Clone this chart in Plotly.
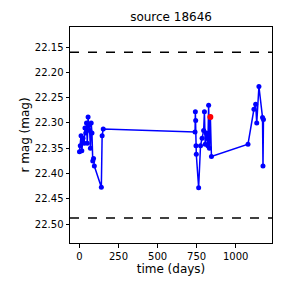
import plotly.graph_objects as go

# Light curve data (time in days, r magnitude)
time_days = [0, 5, 10, 15, 22, 30, 35, 40, 45, 50, 55, 60, 65, 70, 75, 80, 85, 90, 95, 140, 145, 152,
             740, 742, 744, 746, 748, 763, 775, 785, 795, 800, 805, 812, 818, 822, 827, 832, 838, 845,
             1079, 1117, 1128, 1135, 1149, 1172, 1175, 1178]
r_mag = [22.357, 22.345, 22.325, 22.355, 22.33, 22.34, 22.31, 22.32, 22.30, 22.34, 22.288, 22.305,
         22.315, 22.35, 22.30, 22.32, 22.375, 22.37, 22.385, 22.427, 22.325, 22.312,
         22.318, 22.278, 22.295, 22.345, 22.362, 22.428, 22.345, 22.33, 22.315, 22.278, 22.342,
         22.32, 22.33, 22.345, 22.265, 22.35, 22.288, 22.366,
         22.342, 22.273, 22.263, 22.30, 22.228, 22.289, 22.385, 22.293]

highlight_time = [838]
highlight_mag = [22.288]

upper_limit = 22.1605
lower_limit = 22.4876

x_range = [-60.7, 1232.7]
y_range = [22.537, 22.1105]

fig = go.Figure()
fig.add_trace(go.Scatter(x=time_days, y=r_mag, mode="lines+markers",
                         line=dict(color="blue", width=1.5),
                         marker=dict(color="blue", size=5), showlegend=False))
fig.add_trace(go.Scatter(x=highlight_time, y=highlight_mag, mode="markers",
                         marker=dict(color="red", size=6), showlegend=False))
fig.add_trace(go.Scatter(x=x_range, y=[upper_limit, upper_limit], mode="lines",
                         line=dict(color="black", width=1.5, dash="dash"), showlegend=False))
fig.add_trace(go.Scatter(x=x_range, y=[lower_limit, lower_limit], mode="lines",
                         line=dict(color="black", width=1.5, dash="dash"), showlegend=False))

axis_common = dict(showgrid=False, zeroline=False, showline=True, linecolor="black", linewidth=1,
                   mirror=True, ticks="outside", ticklen=3.5, tickwidth=1, tickcolor="black",
                   tickfont=dict(size=10, color="black"), automargin=False)

fig.update_layout(
    width=288, height=288,
    margin=dict(l=70, r=16, t=27, b=45),
    paper_bgcolor="white", plot_bgcolor="white",
    font=dict(family="DejaVu Sans", color="black"),
    title=dict(text="source 18646", x=0.594, xanchor="center", y=0.94, yanchor="middle",
               font=dict(size=12, color="black")),
    xaxis=dict(range=x_range, tickvals=[0, 250, 500, 750, 1000],
               title=dict(text="time (days)", font=dict(size=12), standoff=4), **axis_common),
    yaxis=dict(range=y_range, tickvals=[22.15, 22.20, 22.25, 22.30, 22.35, 22.40, 22.45, 22.50],
               tickformat=".2f",
               title=dict(text="r mag (mag)", font=dict(size=12), standoff=2), **axis_common),
)

fig.write_html("out.html", config={"displayModeBar": False},
               post_script="document.body.style.margin='0';")
